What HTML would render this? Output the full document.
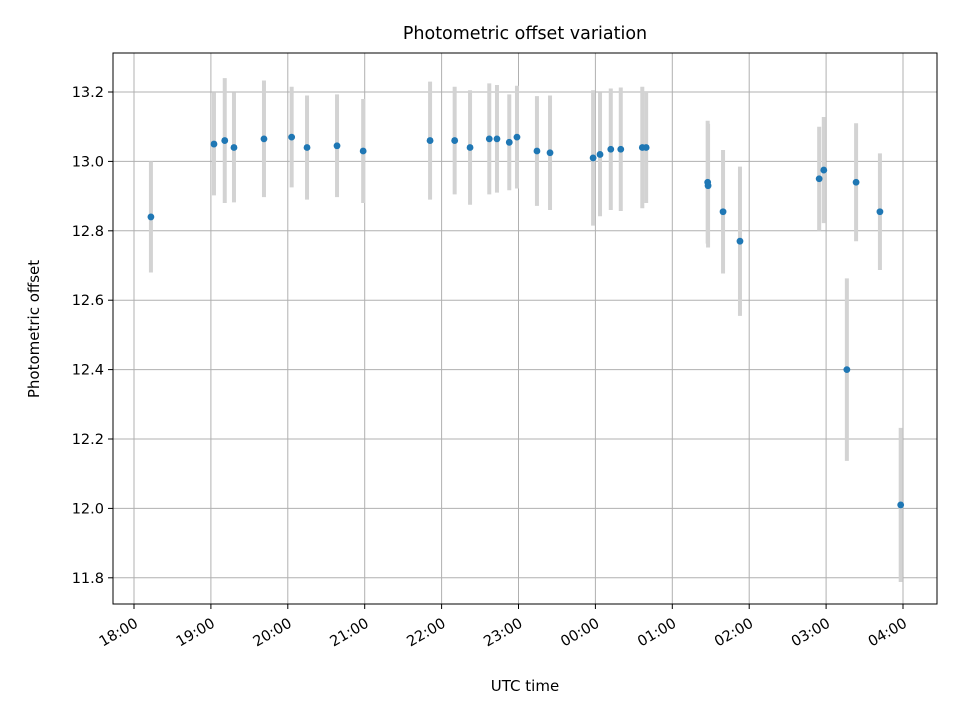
<!DOCTYPE html>
<html><head><meta charset="utf-8"><style>
body{margin:0;background:#fff}
svg text{font-family:"DejaVu Sans","Liberation Sans",sans-serif;fill:#000}
</style></head><body>
<svg id="chart" width="960" height="720" xmlns="http://www.w3.org/2000/svg">
<rect width="960" height="720" fill="#fff"/>
<text x="525" y="39" font-size="17.5" text-anchor="middle">Photometric offset variation</text>
<g id="grid"></g>
<g id="bars"></g>
<g id="pts"></g>
<rect x="113" y="53" width="824" height="551" fill="none" stroke="#000" stroke-width="1"/>
<g id="axes"></g>
<text x="525" y="691" font-size="15" text-anchor="middle">UTC time</text>
<text transform="translate(39,329) rotate(-90)" font-size="15" text-anchor="middle">Photometric offset</text>
</svg>
<script>
// hours since 18:00 UTC
const times=[0.22,1.04,1.18,1.30,1.69,2.05,2.25,2.64,2.98,3.85,4.17,4.37,4.62,4.72,4.88,4.98,5.24,5.41,5.97,6.06,6.20,6.33,6.61,6.66,7.46,7.465,7.66,7.88,8.91,8.97,9.27,9.39,9.70,9.97];
const offsets=[12.84,13.05,13.06,13.04,13.065,13.07,13.04,13.045,13.03,13.06,13.06,13.04,13.065,13.065,13.055,13.07,13.03,13.025,13.01,13.02,13.035,13.035,13.04,13.04,12.94,12.93,12.855,12.77,12.95,12.975,12.40,12.94,12.855,12.01];
const errors=[0.16,0.148,0.18,0.158,0.168,0.145,0.15,0.148,0.15,0.17,0.155,0.165,0.16,0.155,0.138,0.148,0.158,0.165,0.195,0.178,0.175,0.178,0.175,0.16,0.177,0.178,0.178,0.215,0.15,0.153,0.263,0.17,0.168,0.222];
const xTickLabels=["18:00","19:00","20:00","21:00","22:00","23:00","00:00","01:00","02:00","03:00","04:00"];
const yTicks=[11.8,12.0,12.2,12.4,12.6,12.8,13.0,13.2];

const NS="http://www.w3.org/2000/svg";
const X=h=>134+h*76.9;
const Y=v=>92+(13.2-v)*347;
function mk(tag,attrs,parent){const e=document.createElementNS(NS,tag);for(const k in attrs)e.setAttribute(k,attrs[k]);parent.appendChild(e);return e;}
const grid=document.getElementById('grid'),axes=document.getElementById('axes'),bars=document.getElementById('bars'),pts=document.getElementById('pts');
xTickLabels.forEach((lab,i)=>{
  const x=X(i);
  const g=mk('line',{x1:x,x2:x,y1:53,y2:604,stroke:'#b0b0b0','stroke-width':1},grid);
  
  
  const t=mk('line',{x1:x,x2:x,y1:604,y2:609,stroke:'#000'},axes);
  
  
  const tx=mk('text',{'font-size':14.5,'text-anchor':'end',transform:`translate(${x+5},${626}) rotate(-30)`},axes);
  tx.textContent=lab;
  
  
});
yTicks.forEach(v=>{
  const y=Y(v);
  const g=mk('line',{x1:113,x2:937,y1:y,y2:y,stroke:'#b0b0b0','stroke-width':1},grid);
  
  
  const t=mk('line',{x1:108,x2:113,y1:y,y2:y,stroke:'#000'},axes);
  
  
  const tx=mk('text',{x:104,y:y+5,'font-size':14.5,'text-anchor':'end'},axes);
  tx.textContent=v.toFixed(1);
  
  
});
times.forEach((h,i)=>{
  const x=X(h);
  const b=mk('line',{x1:x,x2:x,y1:Y(offsets[i]+errors[i]),y2:Y(offsets[i]-errors[i]),stroke:'#d3d3d3','stroke-width':4},bars);
  
  
  const c=mk('circle',{cx:x,cy:Y(offsets[i]),r:3.4,fill:'#1f77b4'},pts);
  
  
});
</script>
</body></html>
